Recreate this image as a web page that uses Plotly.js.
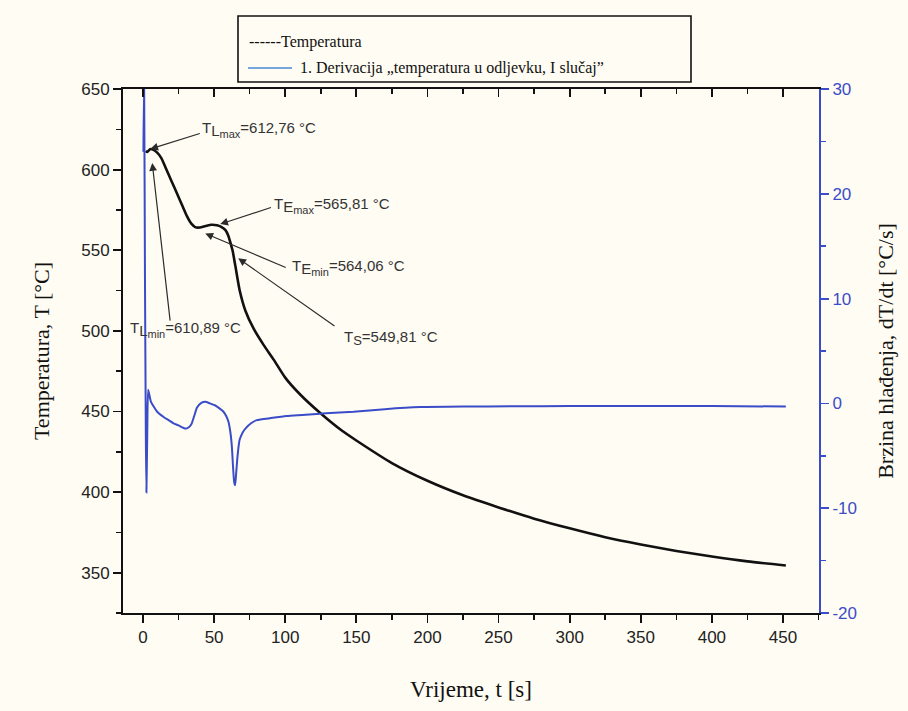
<!DOCTYPE html>
<html>
<head>
<meta charset="utf-8">
<script src="https://cdn.plot.ly/plotly-3.0.1.min.js"></script>
<style>
  html, body { margin: 0; padding: 0; background: #fffcf3; }
  #chart { width: 908px; height: 711px; }
</style>
</head>
<body>
<div id="chart"></div>
<script>
// ---- Data ----
const timeT = [2, 3, 4, 5, 7, 10, 13, 16, 20, 24, 28, 31, 34, 37, 40, 44, 48, 52, 55, 58, 60, 62, 63, 65, 68, 72, 78, 85, 92, 100, 110, 124, 140, 150, 175, 200, 225, 250, 275, 300, 325, 350, 375, 400, 425, 452];
const temperature = [611.5, 610.9, 611.8, 612.7, 612.4, 610.5, 607, 601, 593, 585, 577, 571, 566.5, 564.2, 564.1, 565, 565.8, 565.5, 564.5, 562.5, 559, 553, 549.8, 540, 525, 512.5, 501, 491, 482, 471, 461, 449.5, 438, 432, 418, 407, 398, 390.5, 383.5, 377.5, 372, 367.5, 363.5, 360, 357, 354.5];

const timeD = [0.3, 0.8, 1.4, 2.0, 2.4, 3.0, 3.6, 4.5, 5.5, 7.5, 10, 14.5, 18, 21.5, 25, 29.7, 32, 34, 36, 38, 41, 44, 47, 50.8, 54, 56.6, 58.5, 60.1, 61.5, 62.5, 63.3, 64.1, 64.8, 65.5, 66.5, 67.9, 70, 72, 76, 80, 90, 101, 112, 122, 135, 148, 170, 195, 225, 260, 300, 350, 400, 452];
const derivative = [24, 31, 12, -3, -8.5, -3, 1.3, 0.8, 0.2, -0.3, -0.8, -1.3, -1.6, -1.9, -2.1, -2.4, -2.3, -2.0, -1.2, -0.4, 0.05, 0.15, 0.0, -0.2, -0.5, -0.8, -1.2, -1.75, -2.8, -4.15, -6, -7.5, -7.8, -6.7, -5, -3.5, -2.8, -2.4, -1.9, -1.6, -1.4, -1.2, -1.1, -1.0, -0.9, -0.8, -0.55, -0.35, -0.3, -0.28, -0.25, -0.25, -0.25, -0.3];

const xTickVals = [0, 50, 100, 150, 200, 250, 300, 350, 400, 450];
const yTickVals = [350, 400, 450, 500, 550, 600, 650];
const y2TickVals = [-20, -10, 0, 10, 20, 30];
const y2TickText = ['-20', '-10', '0', '10', '20', '30'];

const legendLabels = ["------Temperatura", "1. Derivacija \u201Etemperatura u odljevku, I slu\u010Daj\u201D"];

const sub2 = (main, s) => '<sub><span style="font-size:15px">' + main + '</span><sub><span style="font-size:11px">' + s + '</span></sub></sub>';
const markLabels = [
  'T' + sub2('L', 'max') + '=612,76 °C',
  'T' + sub2('E', 'max') + '=565,81 °C',
  'T' + sub2('E', 'min') + '=564,06 °C',
  'T<sub><span style="font-size:13px">S</span></sub>=549,81 °C',
  'T' + sub2('L', 'min') + '=610,89 °C'
];
const markTextT = [40.3, 91, 103.5, 140, -10.3];
const markTextTemp = [625, 578, 539.5, 495.5, 501];
const arrowTailT = [41, 91, 101.4, 135.7, 19.2];
const arrowTailTemp = [622.7, 576.8, 538.9, 502.3, 505.4];
const arrowHeadT = [5.1, 54.3, 43.8, 67, 6.5];
const arrowHeadTemp = [612.8, 566.2, 560.4, 545, 604.1];

const BLUE = '#3a4cc8';
const sans = 'Liberation Sans, Arial, sans-serif';
const serif = 'Liberation Serif, Times New Roman, serif';
const tickFont = {family: sans, size: 17, color: '#222'};

const traces = [
  {x: timeT, y: temperature, type: 'scatter', mode: 'lines', line: {color: '#111', width: 2.6, shape: 'spline', smoothing: 0.6}, xaxis: 'x', yaxis: 'y', showlegend: false},
  {x: timeD, y: derivative, type: 'scatter', mode: 'lines', line: {color: BLUE, width: 2, shape: 'spline', smoothing: 0.5}, xaxis: 'x', yaxis: 'y2', showlegend: false}
];

const annotations = [];
for (let i = 0; i < markLabels.length; i++) {
  annotations.push({
    x: arrowHeadT[i], y: arrowHeadTemp[i], xref: 'x', yref: 'y',
    ax: arrowTailT[i], ay: arrowTailTemp[i], axref: 'x', ayref: 'y',
    text: '', showarrow: true, arrowhead: 2, arrowsize: 1.3, arrowwidth: 1.2, arrowcolor: '#2b2b2b'
  });
  annotations.push({
    x: markTextT[i], y: markTextTemp[i], xref: 'x', yref: 'y',
    text: markLabels[i], showarrow: false, xanchor: 'left', yanchor: 'middle',
    font: {family: sans, size: 15, color: '#333'}
  });
}
annotations.push({
  xref: 'paper', yref: 'paper', x: (247 - 123) / 696, y: 1 + (89 - 42) / 524, xanchor: 'left', yanchor: 'middle',
  text: legendLabels[0], showarrow: false, font: {family: serif, size: 16, color: '#111'}
});
annotations.push({
  xref: 'paper', yref: 'paper', x: (298 - 123) / 696, y: 1 + (89 - 68) / 524, xanchor: 'left', yanchor: 'middle',
  text: legendLabels[1], showarrow: false, font: {family: serif, size: 16, color: '#111'}
});

const shapes = [
  {type: 'rect', xref: 'paper', yref: 'paper', x0: (238 - 123) / 696, x1: (691 - 123) / 696,
   y0: 1 + (89 - 82) / 524, y1: 1 + (89 - 16) / 524, line: {color: '#111', width: 1.6}, fillcolor: 'rgba(0,0,0,0)'},
  {type: 'line', xref: 'paper', yref: 'paper', x0: (248 - 123) / 696, x1: (292 - 123) / 696,
   y0: 1 + (89 - 68) / 524, y1: 1 + (89 - 68) / 524, line: {color: '#4a8ad8', width: 1.3}}
];

const layout = {
  width: 908, height: 711,
  margin: {l: 123, r: 89, t: 89, b: 98, pad: 0},
  paper_bgcolor: '#fffcf3', plot_bgcolor: '#fffcf3',
  showlegend: false,
  xaxis: {
    range: [-14.05, 475.3], tickvals: xTickVals, ticks: 'outside', ticklen: 8, tickwidth: 1.8, tickcolor: '#111',
    minor: {dtick: 25, tick0: 0, ticks: 'outside', ticklen: 5, tickwidth: 1.5, tickcolor: '#111'},
    showline: true, linecolor: '#111', linewidth: 2, showgrid: false, zeroline: false,
    tickfont: tickFont,
    title: {text: 'Vrijeme, t [s]', font: {family: serif, size: 23, color: '#111'}, standoff: 34}
  },
  xaxis2: {
    range: [-14.05, 475.3], overlaying: 'x', side: 'top', anchor: 'y', tickvals: xTickVals, ticks: 'inside', ticklen: 8, tickwidth: 1.8, tickcolor: '#111',
    minor: {dtick: 25, tick0: 0, ticks: 'inside', ticklen: 5, tickwidth: 1.5, tickcolor: '#111'},
    showline: true, linecolor: '#111', linewidth: 2, showgrid: false, zeroline: false, showticklabels: false
  },
  yaxis: {
    range: [325, 650], tickvals: yTickVals, ticks: 'outside', ticklen: 8, tickwidth: 1.8, tickcolor: '#111',
    minor: {dtick: 25, tick0: 0, ticks: 'outside', ticklen: 5, tickwidth: 1.5, tickcolor: '#111'},
    showline: true, linecolor: '#111', linewidth: 2, showgrid: false, zeroline: false,
    tickfont: tickFont,
    title: {text: 'Temperatura, T [°C]', font: {family: serif, size: 22, color: '#111'}, standoff: 26}
  },
  yaxis2: {
    range: [-20, 30], tickvals: y2TickVals, ticktext: y2TickText, overlaying: 'y', side: 'right', ticks: 'outside', ticklen: 8, tickwidth: 1.8, tickcolor: BLUE,
    minor: {dtick: 5, tick0: 0, ticks: 'outside', ticklen: 5, tickwidth: 1.5, tickcolor: BLUE},
    showline: true, linecolor: BLUE, linewidth: 2, showgrid: false, zeroline: false,
    tickfont: {family: sans, size: 17, color: BLUE},
    title: {text: 'Brzina hlađenja, dT/dt [°C/s]', font: {family: serif, size: 22, color: '#111'}, standoff: 22}
  },
  annotations: annotations,
  shapes: shapes
};

Plotly.newPlot('chart', traces.concat([{x: [0], y: [650], xaxis: 'x2', yaxis: 'y', mode: 'markers', marker: {opacity: 0}, hoverinfo: 'skip', showlegend: false}]), layout, {displayModeBar: false, staticPlot: true});
</script>
</body>
</html>
